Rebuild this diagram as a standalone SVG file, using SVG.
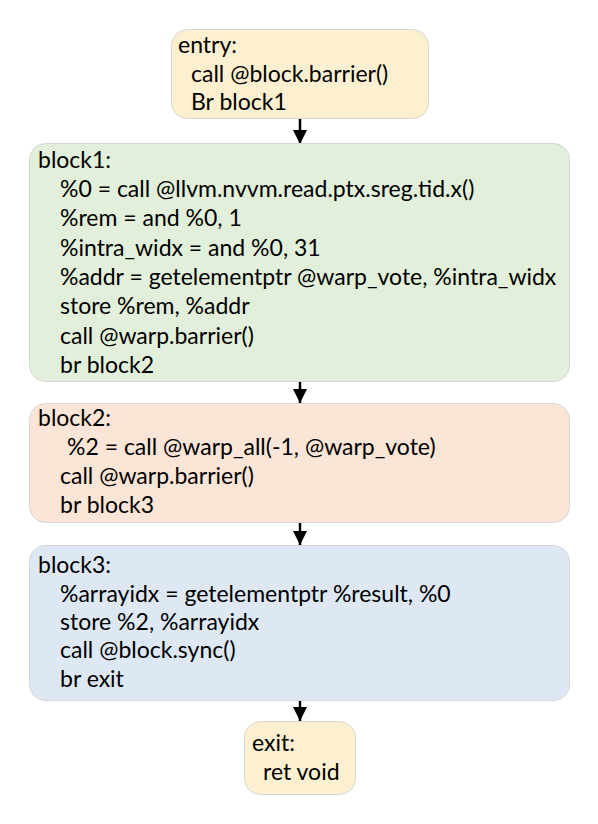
<svg xmlns="http://www.w3.org/2000/svg" width="598" height="824" viewBox="0 0 598 824">
<defs>
<style>
text{font-family:Lato,"Liberation Sans",sans-serif;font-size:23px;fill:#000}
.box{stroke:#d6d6d6;stroke-width:1}
.y{fill:#fdf0d1}
.g{fill:#e2efda}
.o{fill:#fbe5d6}
.b{fill:#dde8f4}
.c{stroke:#000;stroke-width:2.5;fill:none}
</style>
<marker id="ah" markerWidth="14" markerHeight="14" viewBox="0 0 14 14" refX="14" refY="7" orient="auto" markerUnits="userSpaceOnUse">
<path d="M0,0 L14,7 L0,14 Z" fill="#000"/>
</marker>
</defs>
<rect width="598" height="824" fill="#fff"/>
<g id="connectors">
<line class="c" x1="300" y1="119" x2="300" y2="144" marker-end="url(#ah)"/>
<line class="c" x1="300" y1="382" x2="300" y2="403" marker-end="url(#ah)"/>
<line class="c" x1="300" y1="523" x2="300" y2="545" marker-end="url(#ah)"/>
<line class="c" x1="300" y1="701" x2="300" y2="721" marker-end="url(#ah)"/>
</g>
<g id="entry">
<rect class="box y" x="171.5" y="29.5" width="257" height="89" rx="16"/>
<text x="178" y="53">entry:</text>
<text x="191" y="82">call @block.barrier()</text>
<text x="191" y="110">Br block1</text>
</g>
<g id="block1">
<rect class="box g" x="29.5" y="143.5" width="540" height="238" rx="16"/>
<text x="38" y="168">block1:</text>
<text x="60" y="197">%0 = call @llvm.nvvm.read.ptx.sreg.tid.x()</text>
<text x="60" y="226">%rem = and %0, 1</text>
<text x="60" y="256">%intra_widx = and %0, 31</text>
<text x="60" y="285">%addr = getelementptr @warp_vote, %intra_widx</text>
<text x="60" y="314">store %rem, %addr</text>
<text x="60" y="344">call @warp.barrier()</text>
<text x="60" y="373">br block2</text>
</g>
<g id="block2">
<rect class="box o" x="29.5" y="403.5" width="540" height="119" rx="16"/>
<text x="38" y="426">block2:</text>
<text x="67" y="455">%2 = call @warp_all(-1, @warp_vote)</text>
<text x="60" y="484">call @warp.barrier()</text>
<text x="60" y="513">br block3</text>
</g>
<g id="block3">
<rect class="box b" x="29.5" y="545.5" width="540" height="155" rx="16"/>
<text x="38" y="573">block3:</text>
<text x="60" y="602">%arrayidx = getelementptr %result, %0</text>
<text x="60" y="630">store %2, %arrayidx</text>
<text x="60" y="658">call @block.sync()</text>
<text x="60" y="687">br exit</text>
</g>
<g id="exit">
<rect class="box y" x="244.5" y="721.5" width="111" height="73" rx="16"/>
<text x="252" y="751">exit:</text>
<text x="263" y="780">ret void</text>
</g>
</svg>
